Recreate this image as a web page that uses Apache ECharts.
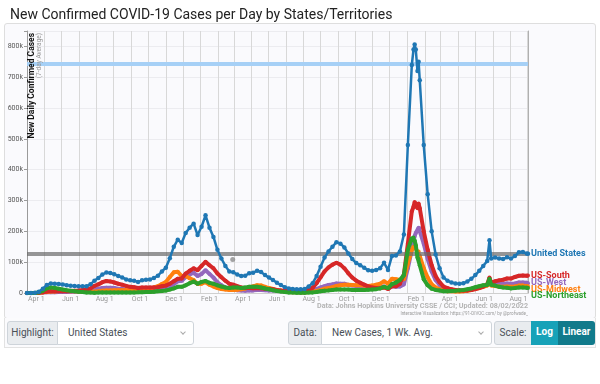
<!DOCTYPE html>
<html><head><meta charset="utf-8">
<script src="https://cdn.jsdelivr.net/npm/echarts@6/dist/echarts.min.js"></script>
<style>
body{margin:0;background:#fff;font-family:Roboto,"Liberation Sans",sans-serif;}
#wrap{position:relative;width:600px;height:384px;overflow:hidden;}
#box{position:absolute;left:4px;top:23px;width:592px;height:296px;border:1px solid #dedede;border-radius:3px;background:#fafafd;box-sizing:border-box;}
#row{position:absolute;left:4px;top:318px;width:592px;height:30px;border:1px solid #e2e2e2;border-top:none;background:#fbfbfd;box-sizing:border-box;}
#chart{position:absolute;left:0;top:0;width:600px;height:384px;}
.c{position:absolute;top:321px;height:24px;box-sizing:border-box;font-size:10px;line-height:22px;color:#495057;border:1px solid #ced4da;white-space:nowrap;}
.lab{background:#e9ecef;text-align:center;}
.sel{background:#fff;padding-left:10px;}
.sel:after{content:"";position:absolute;right:8px;top:8px;width:3px;height:3px;border-right:1px solid #aaa;border-bottom:1px solid #aaa;transform:rotate(45deg);}
.btn{color:#fff;text-align:center;font-weight:bold;border:none;}
</style></head>
<body><div id="wrap">
<div id="box"></div><div id="row"></div>
<div id="chart"></div>
<div class="c lab" style="left:7px;width:51px;border-radius:3px 0 0 3px;">Highlight:</div>
<div class="c sel" style="left:57px;width:137px;border-radius:0 3px 3px 0;">United States</div>
<div class="c lab" style="left:288px;width:34px;border-radius:3px 0 0 3px;">Data:</div>
<div class="c sel" style="left:321px;width:171px;border-radius:0 3px 3px 0;">New Cases, 1 Wk. Avg.</div>
<div class="c lab" style="left:494px;width:38px;border-radius:3px 0 0 3px;">Scale:</div>
<div class="c btn" style="left:531px;width:27px;background:#17a2b8;">Log</div>
<div class="c btn" style="left:558px;width:37px;background:#117a8b;border-radius:0 3px 3px 0;">Linear</div>
</div>
<script>
// weekly dates (plus a few extra days around peaks/spikes)
const dates = [
'2020-03-01','2020-03-08','2020-03-15','2020-03-22','2020-03-29','2020-04-05','2020-04-12','2020-04-19','2020-04-26',
'2020-05-03','2020-05-10','2020-05-17','2020-05-24','2020-05-31','2020-06-07','2020-06-14','2020-06-21','2020-06-28',
'2020-07-05','2020-07-12','2020-07-19','2020-07-26','2020-08-02','2020-08-09','2020-08-16','2020-08-23','2020-08-30',
'2020-09-06','2020-09-13','2020-09-20','2020-09-27','2020-10-04','2020-10-11','2020-10-18','2020-10-25',
'2020-11-01','2020-11-08','2020-11-15','2020-11-22','2020-11-29','2020-12-06','2020-12-13','2020-12-20','2020-12-27',
'2021-01-03','2021-01-10','2021-01-17','2021-01-24','2021-01-31','2021-02-07','2021-02-14','2021-02-21','2021-02-28',
'2021-03-07','2021-03-14','2021-03-21','2021-03-28','2021-04-04','2021-04-11','2021-04-18','2021-04-25',
'2021-05-02','2021-05-09','2021-05-16','2021-05-23','2021-05-30','2021-06-06','2021-06-13','2021-06-20','2021-06-27',
'2021-07-04','2021-07-11','2021-07-18','2021-07-25','2021-08-01','2021-08-08','2021-08-15','2021-08-22','2021-08-29',
'2021-09-05','2021-09-12','2021-09-19','2021-09-26','2021-10-03','2021-10-10','2021-10-17','2021-10-24','2021-10-31',
'2021-11-07','2021-11-14','2021-11-21','2021-11-28','2021-12-05','2021-12-12','2021-12-19','2021-12-26',
'2022-01-02','2022-01-09','2022-01-12','2022-01-14','2022-01-16','2022-01-19','2022-01-21','2022-01-23','2022-01-30',
'2022-02-06','2022-02-13','2022-02-20','2022-02-27','2022-03-06','2022-03-13','2022-03-20','2022-03-27',
'2022-04-03','2022-04-10','2022-04-17','2022-04-24','2022-05-01','2022-05-08','2022-05-15','2022-05-22','2022-05-26','2022-05-29',
'2022-06-05','2022-06-12','2022-06-19','2022-06-26','2022-07-03','2022-07-10','2022-07-17','2022-07-24','2022-07-31','2022-08-02'
];
// values in thousands of cases per day (7-day average)
const unitedStates = [
0,0.1,0.5,4,14,26,31,30,29,
27.5,25,23.5,22.5,21.5,21.5,22,28,40,
49,60,66.5,65,61,55,50.5,44,41,
40,36,41,43,43.5,49,56,70,
82,113,150,173,162,195,212,225,188,
215,252,212,182,140,112,88,70,67,
60,55,56,64,66,72,68,58,
50,42,33,26,19,15,13,12,12.5,
13,21,32,55,85,115,135,150,165,
160,148,128,110,97,90,82,74,72,
75,80,98,75,120,122,135,190,
480,740,790,806,790,720,750,690,480,
320,200,125,80,50,40,34,31,
30,32,37,46,58,72,88,104,171,112,
115,112,110,116,112,120,132,133,128,127
];
const usSouth = [
0,0.01,0.1,0.7,2.5,4.5,5.5,5.5,5.5,
6,6,6.5,7.5,8.2,9.5,11,15,23,
28,35,39,37.5,34,30,27,23,20,
19,16,18,18,17.5,18,19,22,
24,30,38,46,47,63,72,80,74,
88,101,90,80,63,51,40,30,27,
22,18,16,16,15.5,16,15.5,14,
13,12,10,8.5,7,5.5,5,5,5.5,
6,10,17,32,51,70,83,92,98,
92,80,64,50,40,33,27,21,17.5,
16,15.5,18,13,22,22,30,60,
160,265,280,295,290,275,290,275,200,
140,90,55,35,21,16,12,10,
8.5,8,8.5,10,12.5,16,21,28,50,33,
38,41,43,47,47,52,56,57,56,57
];
const usWest = [
0,0.05,0.15,0.7,1.8,2.5,2.6,2.8,3.2,
3.2,3.3,3.5,3.8,4,5,6,8,11,
14,16,17,17,16,14,13,10.3,9,
8,7,7.5,7.5,7.5,8.5,9.5,12,
14,20,29,38,40,52,60,66,55,
62,74,62,50,35,25,18,13,11,
9,8,7.5,8,8.5,9.5,9.5,9,
8.5,8,7,6,4.5,4,4,4,4.2,
4.5,6.5,9,13,18,22,26,28,31,
30,30,26,24,23,22,20.5,18.5,18,
19,19,21,15,22,20,21,28,
80,140,165,185,195,200,212,210,160,
110,70,42,26,15,12,10,9,
8,8.5,9.5,11,14,18,22,26,40,28,
30,30,29,31,30,31,34,34,33,32
];
const usMidwest = [
0,0.01,0.05,0.5,2,3.5,4.5,5,6.3,
7,6.5,6,5.5,5,4,3.4,3.5,4.5,
5.5,7,8.5,8.5,9,9,8.7,9,10,
11,11,13,14.5,15,18,22,29,
36,52,67,69,55,55,48,42,29,
30,35,27,21,16,13,11,9.5,10,
10.5,12,14.5,19,21.5,25,24.5,20,
16,13,9.5,7,4.5,3.5,2.7,2.2,2,
1.8,3,4,6.5,9.5,14,16.5,19,23,
25,27,27,26,25,25,24,23,24,
27,30,38,30,46,45,42,45,
95,140,150,150,145,130,135,120,80,
50,28,18,12,8,6,5.5,5,
5,6,7.5,10,13,16,20,24,35,24,
23,21,20,21,20,21,24,24,22,22
];
const usNortheast = [
0,0.03,0.2,2.1,7.7,15.3,18.2,16.5,13.8,
11.1,9,7.4,5.5,4.1,2.9,1.9,1.4,1.2,
1.3,1.7,1.8,1.9,1.9,2,1.8,1.7,2,
2,2.1,2.5,3,3.5,4.3,5.3,6.8,
8,11,15,20,20,25,32,37,30,
36,39,33,30,25,21,18,16.5,17.5,
17.5,16.5,17.5,20,20,20.5,18,14.5,
12,9,6.5,4.5,3,2,1.3,0.9,0.8,
0.7,1.3,2,3.5,5.5,7.5,8.5,10,11,
11.5,11.5,11,10,9.5,9.5,10,10.5,11,
12.5,15,20,16,29,34,42,58,
140,178,180,170,155,115,110,90,45,
25,14,10,8,6,6,6.5,7,
8.5,10,12,15,18.5,22,25,26,46,27,
24,20,18,17,15,16,18,18,17,16
];
const refLines = [745, 126];          // horizontal reference levels (thousands)
const hoverPoint = [['2021-02-27', 109]];
const monthNames = ['Jan','Feb','Mar','Apr','May','Jun','Jul','Aug','Sep','Oct','Nov','Dec'];
const labeledMonths = [1,3,5,7,9,11];

const chart = echarts.init(document.getElementById('chart'), null, {renderer:'canvas'});
const pairs = vals => dates.map((d,i)=>[d, vals[i]]);
const FONT = 'Roboto, "Liberation Sans", sans-serif';
function line(name, vals, color, width, z, dy, sym){
  return {
    name, type:'line', data:pairs(vals), z,
    symbol:'circle', symbolSize:sym, showSymbol:sym>0, showAllSymbol:true,
    lineStyle:{color, width}, itemStyle:{color},
    emphasis:{disabled:true},
    endLabel:{show:true, formatter:name, color, fontWeight:'bold', fontSize:9, fontFamily:FONT, distance:3, offset:[0,dy]}
  };
}
const option = {
  animation:false,
  backgroundColor:'transparent',
  textStyle:{fontFamily:FONT},
  title:{text:'New Confirmed COVID-19 Cases per Day by States/Territories', left:5, top:3,
         textStyle:{fontSize:14, fontWeight:'normal', color:'#222', fontFamily:FONT}},
  grid:{left:27, right:72, top:31, bottom:91},
  xAxis:{
    type:'time', min:'2020-03-01', max:'2022-08-02',
    minInterval:31*86400000, maxInterval:31*86400000,
    axisLine:{show:true, lineStyle:{color:'#cfcfcf'}},
    axisTick:{show:false},
    splitLine:{show:true, lineStyle:{color:'#d8d8d8', width:1}},
    axisLabel:{fontSize:7, color:'#999', align:'right', margin:3, hideOverlap:false, showMinLabel:false, showMaxLabel:false,
      formatter:function(v){const d=new Date(v); if(d.getDate()!==1) return ''; const m=d.getMonth();
        return labeledMonths.indexOf(m)>=0 ? monthNames[m]+' 1' : '';}}
  },
  yAxis:[{
    type:'value', min:0, max:850, interval:100,
    axisLine:{show:true, lineStyle:{color:'#9a9a9a'}},
    axisTick:{show:true, length:3, lineStyle:{color:'#9a9a9a'}},
    splitLine:{show:true, lineStyle:{color:'#ececf0'}},
    axisLabel:{fontSize:7, color:'#555', margin:4, formatter:v=> v%100!==0 ? '' : (v===0?'0':v+'k')}
  },{
    type:'value', min:0, max:850, position:'right',
    axisLine:{show:true, lineStyle:{color:'#b0b0b0'}}, axisTick:{show:false}, axisLabel:{show:false}, splitLine:{show:false}
  }],
  series:[
    line('US-West', usWest, '#9467bd', 4, 2, 0, 4),
    line('US-Midwest', usMidwest, '#ff7f0e', 4, 3, 4, 4),
    line('US-South', usSouth, '#d62728', 4, 4, 0, 4),
    line('US-Northeast', usNortheast, '#2ca02c', 4, 5, 8, 4),
    line('United States', unitedStates, '#1f77b4', 2.5, 6, 0, 4.5),
    {type:'scatter', data:hoverPoint, symbolSize:5, itemStyle:{color:'#8c8c8c'}, z:7, silent:true},
    {type:'line', data:[], z:8, silent:true,
     markLine:{silent:true, symbol:'none', label:{show:false},
       data:[{yAxis:refLines[0], lineStyle:{color:'#a6d0f6', width:4, type:'solid'}},
             {yAxis:refLines[1], lineStyle:{color:'rgba(105,105,105,0.7)', width:4, type:'solid'}}]}}
  ],
  graphic:[
    {type:'text', x:31.5, y:33, rotation:Math.PI/2, z:100,
     style:{text:'New Daily Confirmed Cases', font:'bold 8.5px '+FONT, fill:'#111', align:'right', verticalAlign:'middle', textAlign:'right', textVerticalAlign:'middle'}},
    {type:'text', x:39.5, y:33, rotation:Math.PI/2, z:100,
     style:{text:'(7-day Average)', font:'6.5px '+FONT, fill:'#999', align:'right', verticalAlign:'middle', textAlign:'right', textVerticalAlign:'middle'}},
    {type:'text', right:72, top:303, z:100,
     style:{text:'Data: Johns Hopkins University CSSE / CCI; Updated: 08/02/2022', font:'bold 7.2px '+FONT, fill:'#b4b4b4'}},
    {type:'text', right:72, top:311, z:100,
     style:{text:'Interactive Visualization: https://91-DIVOC.com/ by @profwade_', font:'4.5px '+FONT, fill:'#999'}}
  ]
};
chart.setOption(option);
</script>
</body></html>
